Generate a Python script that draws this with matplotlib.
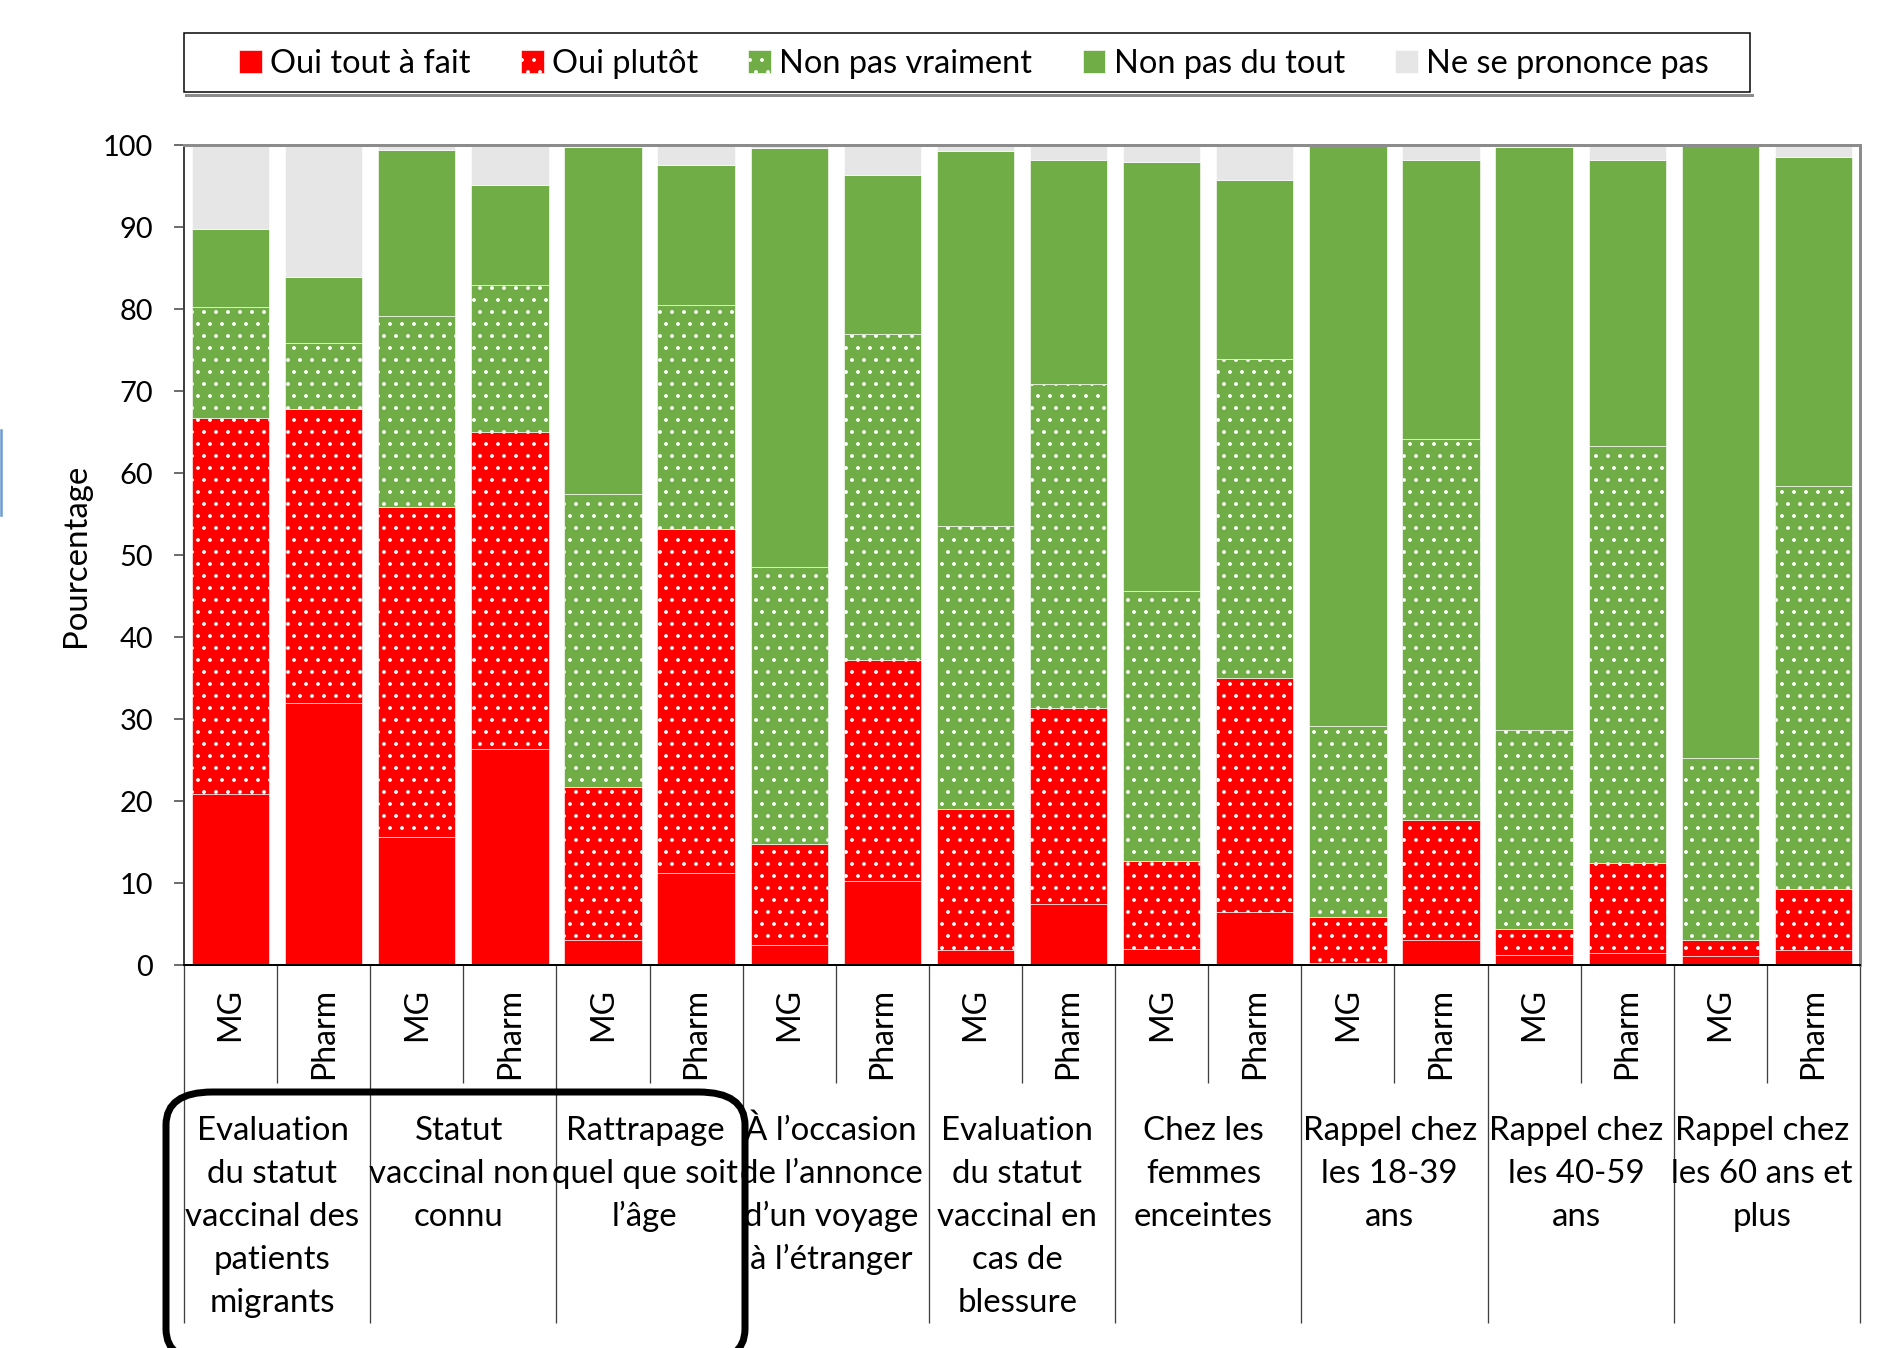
import matplotlib
matplotlib.use('Agg')
import matplotlib.pyplot as plt
from matplotlib.patches import FancyBboxPatch, Rectangle
from matplotlib.lines import Line2D
from matplotlib.transforms import blended_transform_factory
import numpy as np

plt.rcParams['font.family'] = ['Lato', 'DejaVu Sans']
plt.rcParams['hatch.linewidth'] = 1.4

# ---------------- data ----------------
groups = [
    "Evaluation\ndu statut\nvaccinal des\npatients\nmigrants",
    "Statut\nvaccinal non\nconnu",
    "Rattrapage\nquel que soit\nl’âge",
    "À l’occasion\nde l’annonce\nd’un voyage\nà l’étranger",
    "Evaluation\ndu statut\nvaccinal en\ncas de\nblessure",
    "Chez les\nfemmes\nenceintes",
    "Rappel chez\nles 18-39\nans",
    "Rappel chez\nles 40-59\nans",
    "Rappel chez\nles 60 ans et\nplus",
]
providers = ["MG", "Pharm"]

series_names = ["Oui tout à fait", "Oui plutôt", "Non pas vraiment",
                "Non pas du tout", "Ne se prononce pas"]

oui_tout_a_fait = [20.8, 31.9, 15.6, 26.4, 3.1, 11.2, 2.5, 10.3, 1.8, 7.4,
                   1.9, 6.5, 0.3, 3.1, 1.2, 1.5, 1.1, 1.8]
oui_plutot = [45.9, 35.9, 40.2, 38.6, 18.6, 42.0, 12.2, 26.9, 17.2, 24.0,
              10.8, 28.5, 5.5, 14.6, 3.2, 11.0, 2.0, 7.5]
non_pas_vraiment = [13.5, 8.0, 23.3, 17.9, 35.8, 27.3, 33.8, 39.8, 34.5, 39.5,
                    32.9, 38.9, 23.3, 46.5, 24.2, 50.8, 22.1, 49.1]
non_pas_du_tout = [9.5, 8.1, 20.3, 12.2, 42.2, 17.1, 51.1, 19.3, 45.8, 27.3,
                   52.3, 21.8, 70.8, 34.0, 71.1, 34.9, 74.7, 40.1]
ne_se_prononce_pas = [10.3, 16.1, 0.6, 4.9, 0.3, 2.4, 0.4, 3.7, 0.7, 1.8,
                      2.1, 4.3, 0.1, 1.8, 0.3, 1.8, 0.1, 1.5]

yticks = list(range(0, 101, 10))

# ---------------- figure ----------------
W, H = 1896, 1348
DPI = 72
fig = plt.figure(figsize=(W / DPI, H / DPI), dpi=DPI)
fig.patch.set_facecolor('white')

ax_left, ax_right, ax_top, ax_bottom = 184, 1860, 145, 965
ax = fig.add_axes([ax_left / W, (H - ax_bottom) / H,
                   (ax_right - ax_left) / W, (ax_bottom - ax_top) / H])
axh = ax_bottom - ax_top

n = len(groups) * len(providers)
x = np.arange(n)
styles = [
    ('#FF0000', None),
    ('#FF0000', '.'),
    ('#70AD47', '.'),
    ('#70AD47', None),
    ('#E6E6E6', None),
]
all_series = [oui_tout_a_fait, oui_plutot, non_pas_vraiment,
              non_pas_du_tout, ne_se_prononce_pas]
bottom = np.zeros(n)
for vals, (col, hat), name in zip(all_series, styles, series_names):
    vals = np.array(vals)
    ax.bar(x, vals, width=0.83, bottom=bottom, color=col, hatch=hat,
           edgecolor='white', linewidth=0.6, label=name)
    bottom += vals

ax.set_xlim(-0.5, n - 0.5)
ax.set_ylim(0, 100)
ax.set_yticks(yticks)
ax.set_xticks([])
ax.tick_params(axis='y', length=10, width=1.5, pad=21, labelsize=29,
               direction='out', color='#404040')
ax.set_ylabel('Pourcentage', fontsize=33)
ax.yaxis.set_label_coords(-0.0555, 0.5)

for s in ['top', 'right']:
    ax.spines[s].set_color('#8c8c8c')
    ax.spines[s].set_linewidth(3)
ax.spines['left'].set_color('#404040')
ax.spines['left'].set_linewidth(2)
ax.spines['bottom'].set_color('black')
ax.spines['bottom'].set_linewidth(2)

# multi-level category axis
trans = blended_transform_factory(ax.transData, ax.transAxes)
short_end = -(1083 - ax_bottom) / axh
long_end = -(1323 - ax_bottom) / axh
for i in range(n + 1):
    xb = i - 0.5
    yend = long_end if i % 2 == 0 else short_end
    ax.plot([xb, xb], [0, yend], transform=trans, color='#404040',
            lw=1.3, clip_on=False, solid_capstyle='butt')

for g in range(len(groups)):
    for p, prov in enumerate(providers):
        ax.text(2 * g + p, -(988 - ax_bottom) / axh, prov, rotation=90,
                ha='center', va='top', transform=trans, fontsize=32)

first_base, line_step = 1140, 43
for g, label in enumerate(groups):
    for k, line in enumerate(label.split('\n')):
        yb = first_base + k * line_step
        ax.text(2 * g + 0.45, -(yb - ax_bottom) / axh, line, ha='center',
                va='baseline', transform=trans, fontsize=33)

# legend
handles, labels = ax.get_legend_handles_labels()
fig.legend(handles, labels, loc='center',
           bbox_to_anchor=(974 / W, (H - 64) / H), ncol=5, frameon=False,
           fontsize=32.5, handlelength=0.7, handleheight=0.7,
           handletextpad=0.25, columnspacing=1.55)
fig.add_artist(Line2D([186 / W, 1752 / W], [(H - 94.5) / H] * 2,
                      color='#8c8c8c', lw=3, transform=fig.transFigure))
fig.add_artist(Rectangle((184 / W, (H - 92) / H), 1566 / W, 59 / H,
                         fill=False, edgecolor='black', lw=1.5,
                         transform=fig.transFigure))

# rounded highlight box (bottom edge falls just outside the picture)
fig.add_artist(FancyBboxPatch((166 / W, (H - 1362) / H), (745 - 166) / W,
                              (1362 - 1092) / H,
                              boxstyle='round,pad=0,rounding_size=0.0245',
                              fill=False, edgecolor='black', lw=7,
                              transform=fig.transFigure))

# faint blue fragment at left edge
fig.add_artist(Line2D([1 / W, 1 / W], [(H - 515) / H, (H - 430) / H],
                      color='#6b9bd1', lw=2.5, transform=fig.transFigure))

fig.savefig('out.png', dpi=DPI, facecolor='white')
